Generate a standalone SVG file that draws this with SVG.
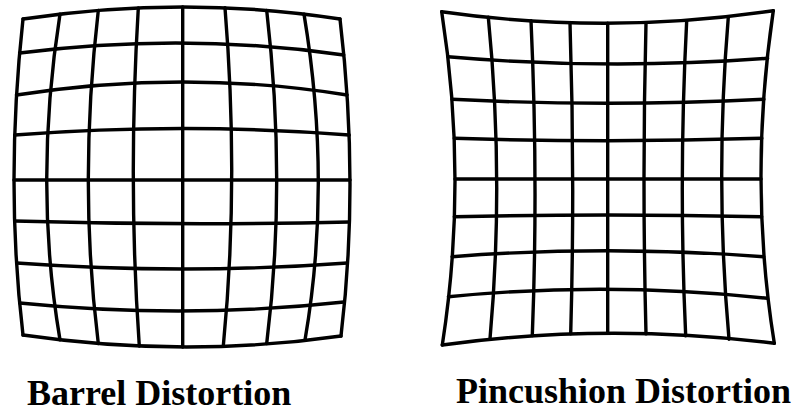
<svg xmlns="http://www.w3.org/2000/svg" width="796" height="413" viewBox="0 0 796 413">
<style>
.g path{fill:none;stroke:#000;stroke-width:3.4;stroke-linecap:round;stroke-linejoin:round}
.lbl{font-family:"Liberation Serif","Times New Roman",serif;font-weight:bold;font-size:36px;fill:#000}
</style>
<rect width="796" height="413" fill="#fff"/>
<g id="barrel" class="g">
<path d="M23,19 Q184.5,-5 340,19"/>
<path d="M19.6,53 Q184.4,32 343.7,55"/>
<path d="M16.5,95 Q184.2,69 347.1,95"/>
<path d="M14.7,135 Q184,122 349.2,135"/>
<path d="M14,180 L350,180"/>
<path d="M14.6,221 Q184,226 349.3,222"/>
<path d="M16.6,263 Q184,275 347.4,263"/>
<path d="M19.7,303 Q184.2,319.5 344,302"/>
<path d="M23,335 Q184,358.5 341,336"/>
<path d="M23,19 Q5,183 23,335"/>
<path d="M60,14.1 Q33.4,183 60,339.9"/>
<path d="M98.3,10.4 Q78.3,183 98.3,343.6"/>
<path d="M138.3,8 Q127.8,183 139.3,346"/>
<path d="M182.7,7 L182.7,347"/>
<path d="M225,7.8 Q239.25,183 223.3,346.2"/>
<path d="M266.7,10.4 Q286.7,183 266.7,343.5"/>
<path d="M304,14.1 Q332.1,183 305,340"/>
<path d="M340,19 Q359.5,182.5 341,336"/>
</g>
<g id="pincushion" class="g">
<path d="M441.7,11.7 Q607.9,35.4 773.3,10.7"/>
<path d="M448,56.7 Q607.6,70.5 767.6,58.3"/>
<path d="M452,99.3 Q607.45,107.3 763.9,99.3"/>
<path d="M454.2,138.3 Q607.4,143.1 761.8,138.3"/>
<path d="M455,179 L761,179"/>
<path d="M454.3,216.7 Q607.4,213.3 761.7,216.7"/>
<path d="M452.1,256.7 Q607.5,244.7 763.7,256.7"/>
<path d="M448.4,296.7 Q607.45,281.1 767.5,298.3"/>
<path d="M442.3,345 Q607.1,322.45 774.3,343.3"/>
<path d="M441.7,11.7 Q468,179.65 442.3,345"/>
<path d="M488.3,17.1 Q504.25,180 490,338.9"/>
<path d="M531,20.7 Q538.35,179.85 532.3,335.6"/>
<path d="M570,22.7 Q575.05,179.75 570.7,333.8"/>
<path d="M607.7,23.3 L607.7,333.3"/>
<path d="M646,22.7 Q642,179.7 646,333.9"/>
<path d="M686.7,20.6 Q678.4,179.8 685.7,335.8"/>
<path d="M728.3,17.1 Q714.75,179.85 729,339.2"/>
<path d="M773.3,10.7 Q748.2,181 774.3,343.3"/>
</g>
<g id="labels">
<text class="lbl" x="27" y="405">Barrel Distortion</text>
<text class="lbl" x="456" y="403">Pincushion Distortion</text>
</g>
</svg>
